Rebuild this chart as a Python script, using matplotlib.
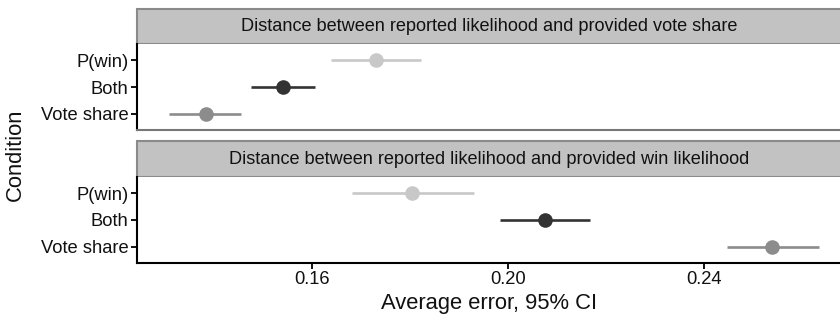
import matplotlib
matplotlib.use("Agg")
import matplotlib.pyplot as plt
from matplotlib.patches import Rectangle

plt.rcParams['font.family'] = ['Liberation Sans', 'DejaVu Sans']

conditions = ["P(win)", "Both", "Vote share"]
colors = ["#c8c8c8", "#333333", "#8c8c8c"]

facet_titles = [
    "Distance between reported likelihood and provided vote share",
    "Distance between reported likelihood and provided win likelihood",
]

# mean error and 95% CI per condition, one list per facet
vote_mean = [0.1729, 0.1540, 0.1382]
vote_lo = [0.1639, 0.1475, 0.1308]
vote_hi = [0.1821, 0.1606, 0.1455]

win_mean = [0.1804, 0.2075, 0.2539]
win_lo = [0.1681, 0.1983, 0.2446]
win_hi = [0.1930, 0.2167, 0.2634]

facets = [(vote_mean, vote_lo, vote_hi), (win_mean, win_lo, win_hi)]

xticks = [0.16, 0.20, 0.24]
xticklabels = ["0.16", "0.20", "0.24"]

W, H = 840, 320
fig = plt.figure(figsize=(W / 100, H / 100), dpi=100)


def fbox(x0, y0, x1, y1):
    return [x0 / W, 1 - y1 / H, (x1 - x0) / W, (y1 - y0) / H]


left, right = 137, 842
layout = [((9, 44), (44, 130)), ((141, 177), (177, 263))]
ypos = [3, 2, 1]
txt = "#111111"

for i, ((s0, s1), (p0, p1)) in enumerate(layout):
    # facet strip
    sax = fig.add_axes(fbox(left, s0, right, s1))
    sax.set_xlim(0, 1)
    sax.set_ylim(0, 1)
    sax.axis("off")
    sax.add_patch(Rectangle((0, 0), 1, 1, transform=sax.transAxes,
                            facecolor="#c2c2c2", edgecolor="#8a8a8a",
                            linewidth=1.5, clip_on=False))
    sax.text(0.5, 0.5, facet_titles[i], ha="center", va="center",
             fontsize=13.1, color=txt)

    ax = fig.add_axes(fbox(left, p0, right, p1))
    mean, lo, hi = facets[i]
    for y, m, a, b, c in zip(ypos, mean, lo, hi, colors):
        ax.plot([a, b], [y, y], color=c, linewidth=1.9, solid_capstyle="butt",
                zorder=2)
        ax.plot([m], [y], marker="o", markersize=10.5, color=c,
                markeredgewidth=0, zorder=3)
    ax.set_xlim(0.1242, 0.2681)
    ax.set_ylim(0.4, 3.6)
    ax.set_yticks(ypos)
    ax.set_yticklabels(conditions, fontsize=13.2, color=txt)
    ax.set_xticks(xticks)
    for sp in ["top", "right"]:
        ax.spines[sp].set_visible(False)
    ax.spines["left"].set_color("black")
    ax.spines["left"].set_linewidth(1.5)
    ax.tick_params(axis="both", length=4, width=1.4, color=txt, pad=2)
    if i == 0:
        ax.spines["bottom"].set_color("#777777")
        ax.spines["bottom"].set_linewidth(1.5)
        ax.tick_params(axis="x", length=0)
        ax.set_xticklabels([])
    else:
        ax.spines["bottom"].set_color("black")
        ax.spines["bottom"].set_linewidth(1.5)
        ax.set_xticklabels(xticklabels, fontsize=13.2, color=txt)
        ax.set_xlabel("Average error, 95% CI", fontsize=15.8, labelpad=3,
                      color=txt)

fig.text(15 / W, 1 - 155 / H, "Condition", rotation=90, ha="center",
         va="center", fontsize=15.8, color=txt)

fig.savefig("out.png", dpi=100, facecolor="white")
